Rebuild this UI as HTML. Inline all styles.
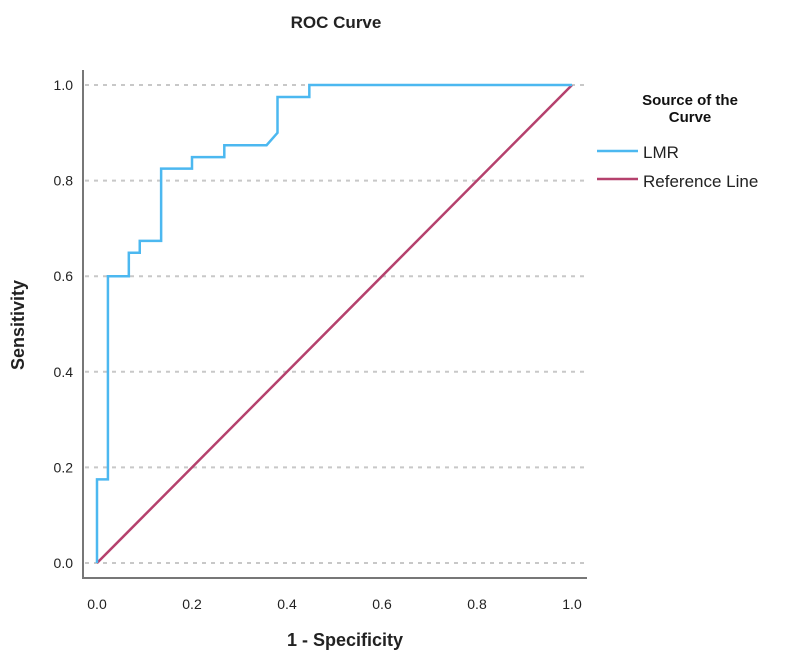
<!DOCTYPE html>
<html><head><meta charset="utf-8"><style>
body{margin:0;background:#fff;width:792px;height:664px;overflow:hidden;font-family:"Liberation Sans",Arial,sans-serif}
</style></head><body>
<svg id="chart" width="792" height="664" xmlns="http://www.w3.org/2000/svg" font-family="Liberation Sans, Arial, sans-serif">
<text x="336" y="28" text-anchor="middle" font-size="17" font-weight="bold" fill="#222">ROC Curve</text>
<g id="grid"></g>
<g id="ticks"></g>
<line x1="83" y1="70" x2="83" y2="579" stroke="#777" stroke-width="2"/>
<line x1="82" y1="578" x2="587" y2="578" stroke="#777" stroke-width="2"/>
<g id="series"></g>
<text transform="translate(24,325) rotate(-90)" text-anchor="middle" font-size="18" font-weight="bold" fill="#222">Sensitivity</text>
<text x="345" y="646" text-anchor="middle" font-size="18" font-weight="bold" fill="#222">1 - Specificity</text>
<g>
<text x="690" y="105" text-anchor="middle" font-size="15" font-weight="bold" fill="#111">Source of the</text>
<text x="690" y="122" text-anchor="middle" font-size="15" font-weight="bold" fill="#111">Curve</text>
<line x1="597" y1="151" x2="638" y2="151" stroke="#4cb8f0" stroke-width="2.5"/>
<text x="643" y="158" font-size="17" fill="#222">LMR</text>
<line x1="597" y1="179" x2="638" y2="179" stroke="#b5416d" stroke-width="2.5"/>
<text x="643" y="187" font-size="17" fill="#222">Reference Line</text>
</g>
</svg>
<script>
const fprValues=[0,0,0.023,0.023,0.067,0.067,0.09,0.09,0.135,0.135,0.20,0.20,0.268,0.268,0.357,0.38,0.38,0.447,0.447,1.0];
const tprValues=[0,0.175,0.175,0.6,0.6,0.649,0.649,0.674,0.674,0.825,0.825,0.849,0.849,0.874,0.874,0.90,0.975,0.975,1.0,1.0];
const refX=[0,1];
const refY=[0,1];
const tickValues=[0,0.2,0.4,0.6,0.8,1.0];
const tickLabels=["0.0","0.2","0.4","0.6","0.8","1.0"];
const NS="http://www.w3.org/2000/svg";
const xs=v=>97+v*475, ys=v=>563-v*478;
const grid=document.getElementById('grid'),ticks=document.getElementById('ticks'),series=document.getElementById('series');
tickValues.forEach((v,i)=>{
 const g=document.createElementNS(NS,'line');
 
 
 g.setAttribute('x1',85);g.setAttribute('x2',586);g.setAttribute('y1',ys(v));g.setAttribute('y2',ys(v));
 g.setAttribute('stroke','#c8c8c8');g.setAttribute('stroke-width','2');g.setAttribute('stroke-dasharray','4 5');
 grid.appendChild(g);
 const t=document.createElementNS(NS,'text');
 
 
 t.setAttribute('x',73);t.setAttribute('y',ys(v)+5);t.setAttribute('text-anchor','end');t.setAttribute('font-size','14');t.setAttribute('fill','#222');
 t.textContent=tickLabels[i];ticks.appendChild(t);
 const u=document.createElementNS(NS,'text');
 
 
 u.setAttribute('x',xs(v));u.setAttribute('y',609);u.setAttribute('text-anchor','middle');u.setAttribute('font-size','14');u.setAttribute('fill','#222');
 u.textContent=tickLabels[i];ticks.appendChild(u);
});
const ref=document.createElementNS(NS,'polyline');


ref.setAttribute('points',refX.map((x,i)=>xs(x)+','+ys(refY[i])).join(' '));
ref.setAttribute('fill','none');ref.setAttribute('stroke','#b5416d');ref.setAttribute('stroke-width','2.5');
series.appendChild(ref);
const roc=document.createElementNS(NS,'polyline');


roc.setAttribute('points',fprValues.map((x,i)=>xs(x)+','+ys(tprValues[i])).join(' '));
roc.setAttribute('fill','none');roc.setAttribute('stroke','#4cb8f0');roc.setAttribute('stroke-width','2.5');
series.appendChild(roc);
</script>
</body></html>
